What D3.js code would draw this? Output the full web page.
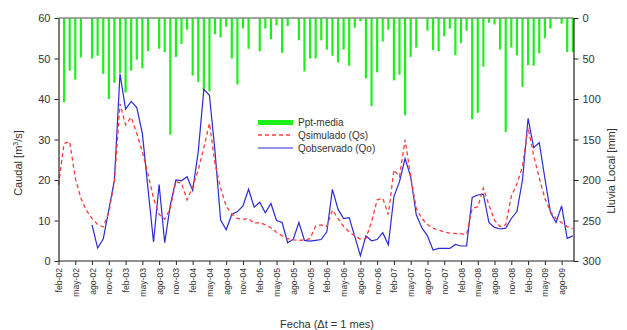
<!DOCTYPE html>
<html>
<head>
<meta charset="utf-8">
<script src="https://cdn.jsdelivr.net/npm/d3@7"></script>
<style>
  body { margin: 0; background: #fff; }
  text { font-family: "Liberation Sans", Arial, sans-serif; fill: #333; }
</style>
</head>
<body>
<svg id="chart" width="627" height="330"></svg>
<script>
// Monthly categories, feb-2002 .. oct-2009
const monthNames = ["ene","feb","mar","abr","may","jun","jul","ago","sep","oct","nov","dic"];
const firstYear = 2002, firstMonth = 1, monthCount = 93;
const months = [];
for (let k = 0; k < monthCount; k++) {
  const m = (firstMonth + k) % 12;
  const y = firstYear + Math.floor((firstMonth + k) / 12);
  months.push(monthNames[m] + "-" + String(y % 100).padStart(2, "0"));
}

// Mean monthly precipitation [mm]
const pptMedia = [0,
  104,65,76,48.5,1,50,46.5,69,100,80,68,92,65,51.5,62,41,1,38,42,144,48,32,14.5,71,79,89,90.5,20,24,10.7,50,
  82,13,38,1,41,13,26,9,43,10,1,27.5,66,50,50,27.5,39,46.5,55,39,59,12,4,74.5,108.6,67,29,14.5,77,70,120,
  48,36.6,0,15.6,39.5,41,22.6,13,46,31,15.6,124.7,117,60,6,8,39,141,36.6,46,85,58,59,43.6,25,13,1.5,7,42,42];

// Simulated discharge Qs [m3/s]
const qSimulado = [18.8,29,29.5,20.5,15.5,12.5,10.5,9,8.4,12,
  19.5,38.8,33.6,35.5,31.5,27,21.5,15.5,11.5,10.3,
  13,19.6,19.2,15.1,18.3,22.5,28,34,24,18,
  13.5,11.6,10.5,10.3,10.5,9.3,9.5,8.9,8.2,7.1,
  6.2,5.5,5.2,5.1,5.2,5.5,8.6,8.9,8.5,12.6,
  10.5,8.5,7.2,6.2,5.4,5.6,9.7,15.1,15.5,11.5,
  22.5,20.8,29.9,20.8,13,10.5,9,8.1,7.6,7.2,
  6.9,6.8,6.7,6.6,13,13.4,18,13.8,10.1,8.5,
  8.9,16,19,23.3,33,26,20.5,15.5,12.2,10.5,
  9.5,8.5,8];

// Observed discharge Qo [m3/s] (no record before ago-02)
const qObservado = [null,null,null,null,null,null,
  8.9,3.2,5.4,12.6,20,46.2,37.5,39.4,37.9,31.5,
  18,4.7,18.9,4.5,13.8,20,19.8,20.8,17.4,27,
  42.4,40.9,27,10.1,7.7,11.5,12.2,13.6,17.7,13.3,
  14.5,11.9,14.2,10,9.5,4.5,5.4,9.5,5.1,4.9,
  5.1,5.3,7.2,17.7,12.8,10.5,10.7,6,1.3,6.2,
  5,5.3,7,4,15.9,19.6,25.3,20.8,11.4,8.2,
  6.2,2.7,3.1,3.1,3.1,4.1,3.7,3.7,15.7,16.3,
  16.5,9.5,8.3,7.9,8.1,10.5,12.2,20,35.2,28,
  29.2,20.5,12,9.5,13.6,5.6,6.2];

const caudalTicks = [0,10,20,30,40,50,60];
const lluviaTicks = [0,50,100,150,200,250,300];
const labelMonths = months.filter((d, i) => i % 3 === 0);

const svg = d3.select("#chart");
const plot = { left: 58.5, right: 573.5, top: 18, bottom: 261 };

const x = d3.scalePoint().domain(months).range([plot.left, 572.8]);
const yQ = d3.scaleLinear().domain([0, 60]).range([plot.bottom, plot.top]);
const yP = d3.scaleLinear().domain([0, 300]).range([plot.top, plot.bottom]);

// Precipitation bars hanging from the top
const step = x.step();
svg.append("g").selectAll("rect")
  .data(pptMedia.map((v, i) => ({ v, i })).filter(d => d.v > 0))
  .join("rect")
  .attr("x", d => x(months[d.i]) - 1.1)
  .attr("y", yP(0))
  .attr("width", 2.2)
  .attr("height", d => yP(d.v) - yP(0))
  .attr("fill", "#1ef01e");

// Top border of the secondary axis
svg.append("line")
  .attr("x1", plot.left).attr("x2", plot.right)
  .attr("y1", plot.top).attr("y2", plot.top)
  .attr("stroke", "#8a8a8a").attr("stroke-width", 1.5);

// Discharge lines
const lineQ = d3.line()
  .defined(d => d.v != null)
  .x(d => x(months[d.i]))
  .y(d => yQ(d.v));

svg.append("path")
  .datum(qObservado.map((v, i) => ({ v, i })))
  .attr("d", lineQ)
  .attr("fill", "none")
  .attr("stroke", "#2a2ad6")
  .attr("stroke-width", 1.2);

svg.append("path")
  .datum(qSimulado.map((v, i) => ({ v, i })))
  .attr("d", lineQ)
  .attr("fill", "none")
  .attr("stroke", "#ff3c3c")
  .attr("stroke-width", 1.3)
  .attr("stroke-dasharray", "4,3");

// Axes
const axisStyle = g => {
  g.selectAll(".domain").attr("stroke", "#222").attr("stroke-width", 1.2);
  g.selectAll(".tick line").attr("stroke", "#222");
};

svg.append("g")
  .attr("transform", `translate(${plot.left},0)`)
  .call(d3.axisLeft(yQ).tickValues(caudalTicks).tickSize(4).tickPadding(4).tickSizeOuter(0))
  .call(axisStyle)
  .call(g => g.selectAll("text").attr("font-size", 11).attr("fill", "#333"));

svg.append("g")
  .attr("transform", `translate(${plot.right},0)`)
  .call(d3.axisRight(yP).tickValues(lluviaTicks).tickSize(5).tickPadding(4).tickSizeOuter(0))
  .call(axisStyle)
  .call(g => g.selectAll("text").attr("font-size", 11).attr("fill", "#333"));

const xAxis = svg.append("g")
  .attr("transform", `translate(0,${plot.bottom})`)
  .call(d3.axisBottom(x).tickValues(labelMonths).tickSize(4).tickSizeOuter(0))
  .call(axisStyle);
xAxis.select(".domain").attr("d", `M${plot.left},0H${plot.right}`);
xAxis.selectAll("text")
  .attr("font-size", 8.6)
  .attr("text-anchor", "end")
  .attr("transform", "rotate(-90)")
  .attr("x", -7)
  .attr("y", 0)
  .attr("dy", "0.35em");

// Axis titles
svg.append("text")
  .attr("transform", "translate(22,163) rotate(-90)")
  .attr("text-anchor", "middle")
  .attr("font-size", 11)
  .html("Caudal [m<tspan dy='-4' font-size='7'>3</tspan><tspan dy='4'>/s]</tspan>");

svg.append("text")
  .attr("transform", "translate(615,171) rotate(-90)")
  .attr("text-anchor", "middle")
  .attr("font-size", 11)
  .text("Lluvia Local [mm]");

svg.append("text")
  .attr("x", 327).attr("y", 328)
  .attr("text-anchor", "middle")
  .attr("font-size", 11)
  .text("Fecha (\u0394t = 1 mes)");

// Legend
const legend = svg.append("g").attr("transform", "translate(258,0)");
legend.append("rect").attr("x", 0).attr("y", 120).attr("width", 35).attr("height", 5).attr("fill", "#1ef01e");
legend.append("line").attr("x1", 0).attr("x2", 35).attr("y1", 135).attr("y2", 135)
  .attr("stroke", "#ff3c3c").attr("stroke-width", 1.3).attr("stroke-dasharray", "4,3");
legend.append("line").attr("x1", 0).attr("x2", 35).attr("y1", 148).attr("y2", 148)
  .attr("stroke", "#2a2ad6").attr("stroke-width", 1.2);
const legendLabels = ["Ppt-media", "Qsimulado (Qs)", "Qobservado (Qo)"];
legend.selectAll("text.lbl").data(legendLabels).join("text")
  .attr("class", "lbl")
  .attr("x", 40)
  .attr("y", (d, i) => [122.5, 135, 148][i])
  .attr("dy", "0.35em")
  .attr("font-size", 10)
  .text(d => d);
</script>
</body>
</html>
